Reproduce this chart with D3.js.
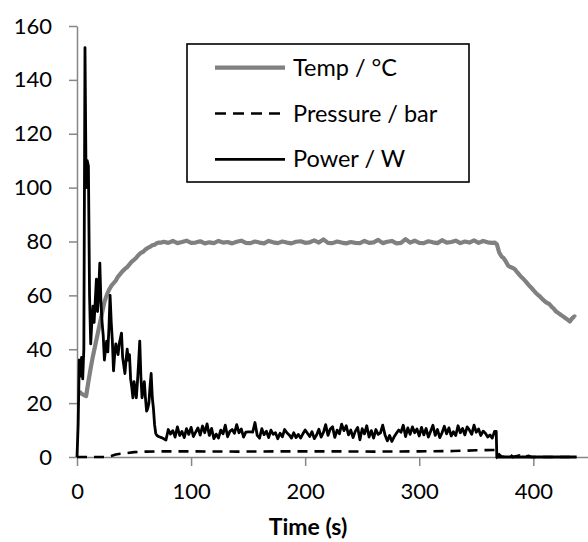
<!DOCTYPE html>
<html>
<head>
<meta charset="utf-8">
<script src="https://cdn.jsdelivr.net/npm/d3@7"></script>
<style>
  body { margin: 0; background: #fff; }
  svg { display: block; font-family: Lato, "Open Sans", sans-serif; }
</style>
</head>
<body>
<div id="chart"></div>
<script>
// Series: [time (s), value]
const tempData = [
  [2, 24.3], [4, 23.5], [6, 23], [8, 22.6], [10, 28], [12, 33], [14, 37.5], [16, 41.5],
  [18, 45.5], [20, 49.5], [22, 53.5], [24, 57.5], [26, 60], [28, 62], [30, 63.5], [32, 64.5],
  [34, 65.5], [36, 67], [38, 68], [40, 69], [42, 69.8], [44, 70.5], [46, 71.5], [48, 72.5],
  [50, 73.2], [52, 74], [54, 75], [56, 75.8], [58, 76.2], [60, 77], [62, 77.6], [64, 78],
  [66, 78.6], [68, 78.8], [70, 79.4], [72, 79.6], [74, 79.6], [76, 79.9], [80, 79.5],
  [84, 80.2], [88, 79.4], [92, 79.8], [96, 80.3], [100, 79.5], [104, 79.6], [108, 80.1],
  [112, 79.3], [116, 79.7], [120, 79.4], [124, 80.2], [128, 79.6], [132, 79.8], [136, 79.3],
  [140, 79.9], [144, 80.3], [148, 79.5], [152, 79.4], [156, 80.0], [160, 79.6], [164, 79.3],
  [168, 80.2], [172, 79.7], [176, 79.4], [180, 80.0], [184, 79.6], [188, 79.3], [192, 79.9],
  [196, 80.1], [200, 79.5], [204, 79.7], [208, 80.4], [212, 79.6], [216, 80.8], [220, 79.5],
  [224, 79.4], [228, 80.0], [232, 79.6], [236, 79.3], [240, 79.8], [244, 79.5], [248, 79.4],
  [252, 80.2], [256, 79.5], [260, 79.7], [264, 80.6], [268, 79.4], [272, 79.9], [276, 80.2],
  [280, 79.3], [284, 79.5], [288, 80.9], [292, 79.6], [296, 80.3], [300, 79.5], [304, 79.4],
  [308, 80.1], [312, 79.7], [316, 79.4], [320, 80.5], [324, 79.6], [328, 79.8], [332, 80.3],
  [336, 79.4], [340, 80.0], [344, 79.6], [348, 80.4], [352, 79.5], [356, 80.2], [360, 79.7],
  [364, 79.5], [366, 79.6], [368, 79], [370, 76], [372, 74.5], [374, 73.8], [376, 72.5],
  [378, 71], [380, 70.5], [382, 70.2], [384, 69.6], [386, 68.5], [388, 67.5], [390, 66.6],
  [392, 65.8], [394, 64.8], [396, 63.8], [398, 62.9], [400, 62], [402, 61], [404, 60.2],
  [406, 59.5], [408, 58.6], [410, 57.8], [412, 57.2], [414, 56.8], [416, 55.8], [418, 55],
  [420, 54], [422, 53.4], [424, 52.8], [426, 52.2], [428, 51.6], [430, 51], [432, 50.3],
  [434, 51.5], [436, 52.2], [437, 51.8]
];

const pressureData = [
  [0, 0], [26, 0], [30, 0.4], [34, 0.9], [38, 1.2], [44, 1.5], [50, 1.8], [60, 2.0],
  [80, 2.1], [100, 2.1], [140, 2.0], [180, 2.1], [220, 2.1], [260, 2.0], [300, 2.1],
  [330, 2.2], [350, 2.5], [366, 2.6], [368, 0], [370, 1.0], [372, 0.2], [376, 0],
  [380, 0.8], [382, 0], [388, 0.6], [390, 0], [396, 0.4], [398, 0], [438, 0]
];

const powerData = [
  [0, 0], [1, 12], [2, 36], [3, 30], [4, 37], [5, 29], [6, 40], [7, 152], [8, 100],
  [9, 110], [10, 108], [11, 60], [12, 42], [13, 50], [14, 56], [15, 50], [16, 58], [17, 66],
  [18, 54], [19, 62], [20, 72], [21, 57], [22, 50], [23, 45], [24, 36], [25, 40], [26, 43],
  [27, 39], [28, 48], [29, 60], [30, 50], [31, 43], [32, 32], [33, 38], [34, 42], [35, 40],
  [36, 38], [37, 42], [38, 44], [39, 46], [40, 37], [41, 34], [42, 31], [43, 36], [44, 40],
  [45, 36], [46, 38], [47, 29], [48, 26], [49, 22], [50, 28], [51, 25], [52, 22], [53, 28],
  [54, 35], [55, 43], [56, 30], [57, 22], [58, 25], [59, 28], [60, 22], [61, 17], [62, 18],
  [63, 20], [64, 26], [65, 31], [66, 22], [67, 18], [68, 12], [69, 8.8], [70, 8.0],
  [72, 7.5], [74, 7.2], [76, 6.8], [78, 6.3], [80, 10.2], [82, 8.5], [84, 9.8], [86, 7.4],
  [88, 11.2], [90, 8.0], [92, 9.5], [94, 7.2], [96, 10.5], [98, 8.4], [100, 11.0],
  [102, 7.6], [104, 9.2], [106, 10.8], [108, 8.1], [110, 11.5], [112, 9.0], [114, 12.3],
  [116, 8.0], [118, 10.6], [120, 6.8], [122, 8.5], [124, 7.0], [126, 10.0], [128, 8.6],
  [130, 11.8], [132, 7.5], [134, 9.5], [136, 10.2], [138, 8.8], [140, 12.0], [142, 9.0],
  [144, 10.4], [146, 7.4], [148, 9.2], [150, 9.3], [152, 9.3], [154, 9.2], [156, 12.8],
  [158, 8.0], [160, 7.0], [162, 10.5], [164, 8.3], [166, 9.6], [168, 7.2], [170, 10.0],
  [172, 8.4], [174, 9.0], [176, 6.8], [178, 8.8], [180, 7.5], [182, 10.2], [184, 9.0],
  [186, 8.2], [188, 7.0], [190, 9.0], [192, 7.2], [194, 8.4], [196, 7.0], [198, 8.6],
  [200, 10.0], [202, 8.8], [204, 7.6], [206, 9.4], [208, 6.8], [210, 8.2], [212, 10.3],
  [214, 7.4], [216, 9.1], [218, 12.0], [220, 8.0], [222, 10.4], [224, 11.2], [226, 7.3],
  [228, 10.0], [230, 8.6], [232, 12.2], [234, 9.8], [236, 11.6], [238, 8.2], [240, 10.0],
  [242, 7.2], [244, 9.6], [246, 11.0], [248, 6.4], [250, 10.5], [252, 8.6], [254, 11.6],
  [256, 7.4], [258, 9.8], [260, 7.0], [262, 10.2], [264, 8.4], [266, 9.0], [268, 11.8],
  [270, 8.2], [272, 6.0], [274, 8.0], [276, 5.8], [278, 7.5], [280, 8.8], [282, 10.0],
  [284, 9.2], [286, 11.8], [288, 7.6], [290, 10.8], [292, 8.4], [294, 11.2], [296, 9.0],
  [298, 10.4], [300, 7.8], [302, 11.0], [304, 8.2], [306, 10.6], [308, 7.4], [310, 9.6],
  [312, 11.8], [314, 8.0], [316, 10.2], [318, 7.2], [320, 9.0], [322, 11.4], [324, 8.6],
  [326, 10.8], [328, 7.8], [330, 9.4], [332, 8.0], [334, 11.6], [336, 9.0], [338, 10.6],
  [340, 8.2], [342, 11.2], [344, 10.0], [346, 8.4], [348, 11.8], [350, 9.2], [352, 10.4],
  [354, 8.0], [356, 9.6], [358, 8.8], [360, 7.4], [362, 8.2], [364, 7.0], [366, 9.5],
  [367.5, 9.5], [368, 0], [438, 0]
];

const yTicks = [0, 20, 40, 60, 80, 100, 120, 140, 160];
const xTicks = [0, 100, 200, 300, 400];
const legendLabels = ["Temp / °C", "Pressure / bar", "Power / W"];

const width = 588, height = 542;
const axisColor = "#868686";

const svg = d3.select("#chart").append("svg")
    .attr("width", width)
    .attr("height", height);

// Scales (x axis runs off the right edge like the reference)
const x = d3.scaleLinear().domain([0, 450]).range([77, 77 + 450 * 1.1408]);
const y = d3.scaleLinear().domain([0, 160]).range([457, 26]);

// Y axis
const yAxis = svg.append("g")
    .attr("transform", `translate(${x(0)},0)`)
    .call(d3.axisLeft(y).tickValues(yTicks).tickSize(8).tickSizeOuter(0).tickPadding(17));
yAxis.select(".domain").attr("stroke", axisColor).attr("stroke-width", 1.5);
yAxis.selectAll(".tick line").attr("stroke", axisColor).attr("stroke-width", 1.5);
yAxis.selectAll(".tick text")
    .attr("fill", "#000")
    .style("font-size", "22px")
    .style("font-family", "Lato, sans-serif");

// X axis
const xAxis = svg.append("g")
    .attr("transform", `translate(0,${y(0)})`)
    .call(d3.axisBottom(x).tickValues(xTicks).tickSize(9).tickSizeOuter(0));
xAxis.select(".domain").attr("stroke", axisColor).attr("stroke-width", 1.5);
xAxis.selectAll(".tick line").attr("stroke", axisColor).attr("stroke-width", 1.5);
xAxis.selectAll(".tick text")
    .attr("fill", "#000")
    .attr("y", 42)
    .attr("dy", 0)
    .style("font-size", "22px")
    .style("font-family", "Lato, sans-serif");

// Axis title
svg.append("text")
    .attr("x", 308)
    .attr("y", 535)
    .attr("text-anchor", "middle")
    .style("font-size", "23px")
    .style("font-weight", "bold")
    .text("Time (s)");

// Lines
const line = d3.line().x(d => x(d[0])).y(d => y(d[1]));

svg.append("path")
    .datum(tempData)
    .attr("d", line)
    .attr("fill", "none")
    .attr("stroke", "#808080")
    .attr("stroke-width", 4.2)
    .attr("stroke-linejoin", "round");

svg.append("path")
    .datum(pressureData)
    .attr("d", line)
    .attr("fill", "none")
    .attr("stroke", "#000")
    .attr("stroke-width", 2.6)
    .attr("stroke-dasharray", "10,7");

svg.append("path")
    .datum(powerData)
    .attr("d", line)
    .attr("fill", "none")
    .attr("stroke", "#000")
    .attr("stroke-width", 2.8)
    .attr("stroke-linejoin", "round");

// Legend
const legend = svg.append("g");
legend.append("rect")
    .attr("x", 187).attr("y", 44)
    .attr("width", 282).attr("height", 138)
    .attr("fill", "#fff")
    .attr("stroke", "#000")
    .attr("stroke-width", 1.6);

const legendStyles = [
  { stroke: "#808080", width: 4.2, dash: null },
  { stroke: "#000", width: 2.6, dash: "11,7" },
  { stroke: "#000", width: 2.8, dash: null }
];

legendLabels.forEach((label, i) => {
    const ly = 67.7 + i * 45.8;
    legend.append("line")
        .attr("x1", 215).attr("x2", 285)
        .attr("y1", ly).attr("y2", ly)
        .attr("stroke", legendStyles[i].stroke)
        .attr("stroke-width", legendStyles[i].width)
        .attr("stroke-dasharray", legendStyles[i].dash);
    legend.append("text")
        .attr("x", 293)
        .attr("y", ly + 8)
        .style("font-size", "23.5px")
        .text(label);
});
</script>
</body>
</html>
